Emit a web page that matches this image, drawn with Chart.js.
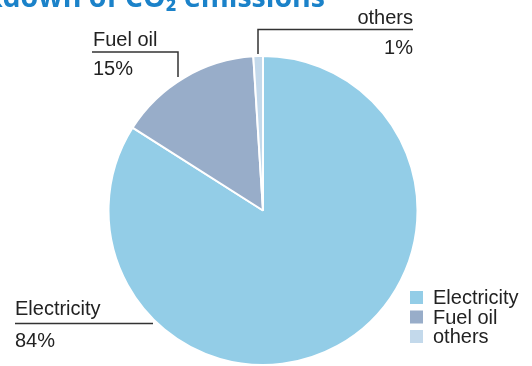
<!DOCTYPE html>
<html><head><meta charset="utf-8">
<script src="https://cdn.jsdelivr.net/npm/chart.js@4"></script>
<style>html,body{margin:0;padding:0;background:#fff}#wrap{width:532px;height:366px;position:relative}</style>
</head><body><div id="wrap"><canvas id="c" width="532" height="366"></canvas></div>
<script>
const titleText = "Breakdown of CO₂ emissions";
const categories = ["Electricity", "Fuel oil", "others"];
const shares = [84, 15, 1];
const shareLabels = ["84%", "15%", "1%"];
const colors = ["#93CDE7", "#98ADC9", "#C3D9EB"];

const FONT = '20px "Liberation Sans", Arial, sans-serif';
const overlay = {
  id: 'overlay',
  afterDraw(chart) {
    const ctx = chart.ctx;
    ctx.save();
    // title (cut at top-left like the reference)
    ctx.fillStyle = '#1B82C9';
    ctx.font = 'bold 28.5px "Open Sans", sans-serif';
    ctx.textAlign = 'right';
    ctx.textBaseline = 'alphabetic';
    ctx.fillText(titleText, 325, 7);

    ctx.fillStyle = '#222';
    ctx.strokeStyle = '#333';
    ctx.lineWidth = 1.5;
    ctx.font = FONT;
    // callouts
    const callouts = [
      {i: 0, x: 15, align: 'left', yName: 315, yVal: 347, line: [[15,323.5],[153,323.5]]},
      {i: 1, x: 93, align: 'left', yName: 46, yVal: 75, line: [[92,52],[178,52],[178,77]]},
      {i: 2, x: 413, align: 'right', yName: 24, yVal: 54, line: [[258,54],[258,29.5],[413,29.5]]}
    ];
    callouts.forEach(c => {
      ctx.textAlign = c.align;
      ctx.fillText(categories[c.i], c.x, c.yName);
      ctx.fillText(shareLabels[c.i], c.x, c.yVal);
      ctx.beginPath();
      c.line.forEach((p, k) => k ? ctx.lineTo(p[0], p[1]) : ctx.moveTo(p[0], p[1]));
      ctx.stroke();
    });
    // legend
    ctx.textAlign = 'left';
    ctx.textBaseline = 'alphabetic';
    categories.forEach((name, k) => {
      const y = 304 + k * 19.5;
      ctx.fillStyle = colors[k];
      ctx.fillRect(410, y - 13, 13, 13);
      ctx.fillStyle = '#222';
      ctx.fillText(name, 433, y);
    });
    ctx.restore();
  }
};

new Chart(document.getElementById('c'), {
  type: 'pie',
  data: {
    labels: categories,
    datasets: [{ data: shares, backgroundColor: colors, borderColor: '#fff', borderWidth: 2 }]
  },
  options: {
    responsive: false,
    animation: false,
    layout: { padding: { top: 55, bottom: 0, left: 0, right: 6 } },
    plugins: { legend: { display: false }, tooltip: { enabled: false }, title: { display: false } }
  },
  plugins: [overlay]
});
</script></body></html>
